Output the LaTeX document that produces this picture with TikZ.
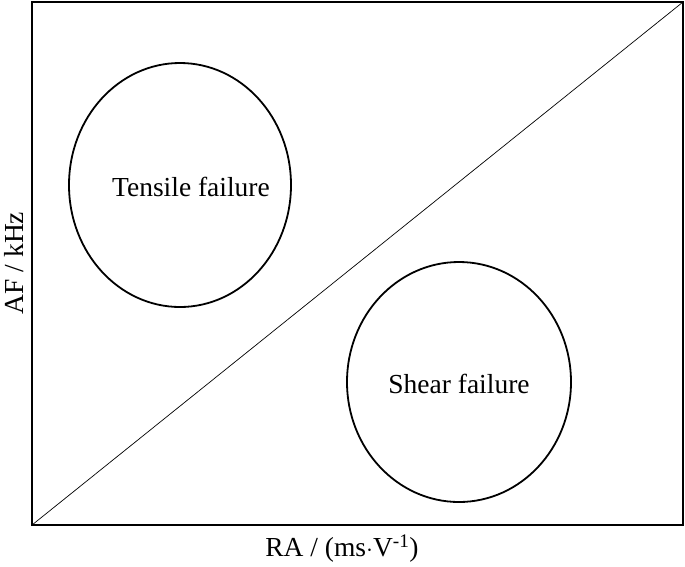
\documentclass[tikz,border=0pt]{standalone}
\usepackage{fontspec}
\setmainfont{Liberation Serif}
\begin{document}
\begin{tikzpicture}[x=1pt,y=-1pt,
  lbl/.style={font=\fontsize{27.5}{31}\selectfont}]
\useasboundingbox (0,0) rectangle (685,566);
\draw[line width=2pt] (32,2) rectangle (683,525);
\coordinate (bl) at (32,525);
\coordinate (tr) at (683,2);
\draw[line width=0.7pt] (bl) -- (tr);
\draw[line width=1.8pt] (180,185) ellipse [x radius=111, y radius=122];
\draw[line width=1.8pt] (459,382) ellipse [x radius=112, y radius=120];
\node[lbl] (t) at (191,187) {Tensile failure};
\node[lbl] (s) at (459,384) {Shear failure};
\node[lbl,rotate=90] (y) at (14,263) {AF / kHz};
\node[lbl] (x) at (342,549) {RA / (ms$\cdot$V\textsuperscript{-1})};
\end{tikzpicture}
\end{document}
